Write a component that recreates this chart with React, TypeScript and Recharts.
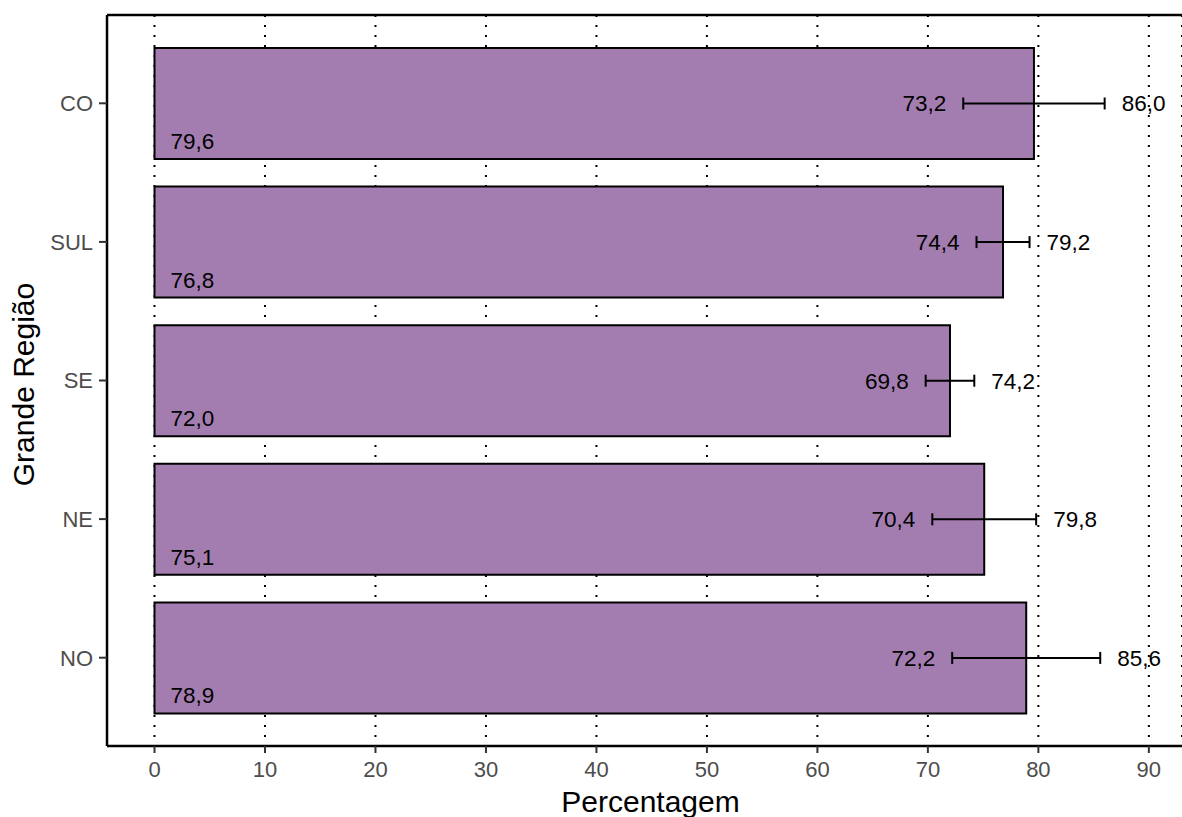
import React from "react";
import {
  BarChart,
  Bar,
  XAxis,
  YAxis,
  CartesianGrid,
  ErrorBar,
  LabelList,
} from "recharts";

const regions = ["CO", "SUL", "SE", "NE", "NO"];
const values = [79.6, 76.8, 72.0, 75.1, 78.9];
const lower = [73.2, 74.4, 69.8, 70.4, 72.2];
const upper = [86.0, 79.2, 74.2, 79.8, 85.6];
const xTicks = [0, 10, 20, 30, 40, 50, 60, 70, 80, 90];

const data = regions.map((r, i) => ({
  region: r,
  value: values[i],
  err: [values[i] - lower[i], upper[i] - values[i]],
}));

const FONT = "'Liberation Sans', Arial, sans-serif";
const fmt = (v: number) => v.toFixed(1).replace(".", ",");

function box(props: any) {
  const vb = props.viewBox && props.viewBox.width !== undefined ? props.viewBox : props;
  return { x: +vb.x, y: +vb.y, width: +vb.width, height: +vb.height };
}

function ValueLabel(props: any) {
  const b = box(props);
  return (
    <text x={b.x + 16} y={b.y + b.height - 10} fontSize={22.5} fill="#000" fontFamily={FONT}>
      {fmt(values[props.index])}
    </text>
  );
}

function LowLabel(props: any) {
  const b = box(props);
  const i = props.index;
  const px = b.x + (b.width * lower[i]) / values[i];
  return (
    <text x={px - 17} y={b.y + b.height / 2} dy="0.35em" textAnchor="end" fontSize={22.5} fill="#000" fontFamily={FONT}>
      {fmt(lower[i])}
    </text>
  );
}

function HighLabel(props: any) {
  const b = box(props);
  const i = props.index;
  const px = b.x + (b.width * upper[i]) / values[i];
  return (
    <text x={px + 17} y={b.y + b.height / 2} dy="0.35em" textAnchor="start" fontSize={22.5} fill="#000" fontFamily={FONT}>
      {fmt(upper[i])}
    </text>
  );
}

function XTitle(props: any) {
  const vb = props.viewBox;
  return (
    <text x={vb.x + vb.width / 2 + 6} y={812} textAnchor="middle" fontSize={30} fill="#000" fontFamily={FONT}>
      Percentagem
    </text>
  );
}

function YTitle(props: any) {
  const vb = props.viewBox;
  const cx = 23;
  const cy = vb.y + vb.height / 2 + 4;
  return (
    <text
      x={cx}
      y={cy}
      dy="0.35em"
      textAnchor="middle"
      fontSize={30}
      fill="#000"
      fontFamily={FONT}
      transform={`rotate(-90 ${cx} ${cy})`}
    >
      Grande Região
    </text>
  );
}

export default function App() {
  return (
    <div style={{ position: "absolute", left: 0, top: 0, fontFamily: FONT, background: "#fff" }}>
      <BarChart
        width={1182}
        height={817}
        data={data}
        layout="vertical"
        margin={{ top: 14, right: 0, bottom: 0, left: 0 }}
      >
        <CartesianGrid
          horizontal={false}
          vertical
          stroke="#000"
          strokeWidth={2}
          strokeDasharray="2 8"
        />
        <XAxis
          type="number"
          domain={[-4.3, 93]}
          ticks={xTicks}
          allowDataOverflow
          height={71}
          tickSize={7}
          tickMargin={8}
          tick={{ fontSize: 22, fill: "#4d4d4d", fontFamily: FONT }}
          tickLine={{ stroke: "#333", strokeWidth: 2 }}
          axisLine={{ stroke: "#000", strokeWidth: 2.5 }}
          label={<XTitle />}
        />
        <XAxis
          xAxisId="top"
          orientation="top"
          type="number"
          domain={[-4.3, 93]}
          allowDataOverflow
          height={1}
          tick={false}
          tickLine={false}
          axisLine={{ stroke: "#000", strokeWidth: 2.5 }}
        />
        <YAxis
          type="category"
          dataKey="region"
          width={107}
          padding={{ top: 19, bottom: 19 }}
          tickSize={8}
          tickMargin={6}
          tick={{ fontSize: 22, fill: "#4d4d4d", fontFamily: FONT }}
          tickLine={{ stroke: "#333", strokeWidth: 2 }}
          axisLine={{ stroke: "#000", strokeWidth: 2.5 }}
          label={<YTitle />}
        />
        <Bar
          dataKey="value"
          barSize={111}
          fill="#a47db0"
          stroke="#000"
          strokeWidth={2}
          isAnimationActive={false}
        >
          <ErrorBar dataKey="err" direction="x" width={6} stroke="#000" strokeWidth={2} />
          <LabelList dataKey="value" content={<ValueLabel />} />
          <LabelList dataKey="value" content={<LowLabel />} />
          <LabelList dataKey="value" content={<HighLabel />} />
        </Bar>
      </BarChart>
    </div>
  );
}
